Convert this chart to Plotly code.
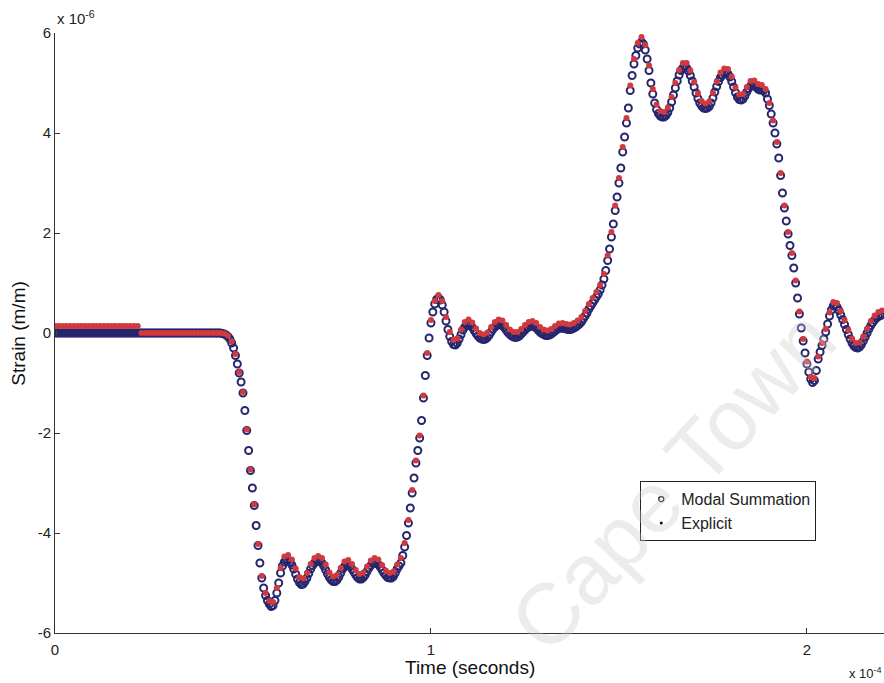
import numpy as np
import plotly.graph_objects as go

# Strain (x 1e-6 m/m) sampled every 0.005 (x 1e-4 s), modal summation solution
modal_strain = [
    0, 0, 0, 0, 0, 0, 0, 0, 0, 0, 0, 0, 0, 0, 0, 0, 0, 0, 0, 0,
    0, 0, 0, 0, 0, 0, 0, 0, 0, 0, 0, 0, 0, 0, 0, 0, 0, 0, 0, 0,
    0, 0, 0, 0, 0, 0, 0, 0, 0, 0, 0, 0, 0, 0, 0, 0, 0, 0, 0, 0,
    0, 0, 0, 0, 0, 0, 0, 0, 0, 0, 0, 0, 0, 0, 0, 0, 0, 0, 0, 0,
    0, 0, 0, 0, 0, 0, 0, 0, 0, -0.01, -0.02, -0.04, -0.07, -0.12, -0.2, -0.3, -0.45, -0.62, -0.8, -0.98,
    -1.2, -1.55, -1.95, -2.35, -2.75, -3.1, -3.45, -3.85, -4.25, -4.6, -4.9, -5.1, -5.25, -5.35, -5.42, -5.47, -5.45, -5.35, -5.2, -5.0,
    -4.8, -4.66, -4.58, -4.55, -4.55, -4.58, -4.64, -4.72, -4.82, -4.92, -4.99, -5.03, -5.02, -4.97, -4.9, -4.81, -4.72, -4.65, -4.6, -4.57,
    -4.56, -4.57, -4.6, -4.66, -4.74, -4.82, -4.89, -4.94, -4.97, -4.97, -4.94, -4.88, -4.8, -4.72, -4.67, -4.64, -4.64, -4.67, -4.72, -4.78,
    -4.84, -4.89, -4.92, -4.92, -4.89, -4.84, -4.77, -4.7, -4.65, -4.61, -4.6, -4.6, -4.63, -4.68, -4.74, -4.8, -4.85, -4.89, -4.9, -4.9,
    -4.87, -4.8, -4.72, -4.66, -4.6, -4.45, -4.28, -4.05, -3.8, -3.5, -3.2, -2.9, -2.6, -2.35, -2.1, -1.75, -1.3, -0.85, -0.45, -0.1,
    0.2, 0.42, 0.58, 0.67, 0.7, 0.66, 0.56, 0.42, 0.24, 0.07, -0.07, -0.17, -0.23, -0.24, -0.2, -0.12, -0.03, 0.06, 0.12, 0.16,
    0.17, 0.15, 0.11, 0.05, -0.01, -0.06, -0.1, -0.12, -0.13, -0.12, -0.09, -0.04, 0.02, 0.08, 0.12, 0.15, 0.17, 0.17, 0.15, 0.11,
    0.06, 0.01, -0.03, -0.06, -0.08, -0.09, -0.08, -0.06, -0.02, 0.02, 0.06, 0.1, 0.12, 0.14, 0.14, 0.13, 0.1, 0.06, 0.02, -0.01,
    -0.03, -0.05, -0.05, -0.04, -0.02, 0.01, 0.04, 0.07, 0.09, 0.1, 0.1, 0.09, 0.08, 0.07, 0.07, 0.08, 0.1, 0.12, 0.15, 0.18,
    0.22, 0.28, 0.34, 0.4, 0.48, 0.54, 0.6, 0.66, 0.72, 0.78, 0.86, 0.96, 1.08, 1.25, 1.45, 1.68, 1.92, 2.18, 2.45, 2.72,
    3.0, 3.3, 3.62, 3.92, 4.2, 4.5, 4.85, 5.15, 5.38, 5.55, 5.7, 5.78, 5.82, 5.78, 5.66, 5.48, 5.25, 5.0, 4.78, 4.6,
    4.47, 4.39, 4.34, 4.32, 4.32, 4.35, 4.41, 4.5, 4.62, 4.76, 4.9, 5.04, 5.16, 5.25, 5.3, 5.32, 5.3, 5.24, 5.15, 5.04,
    4.92, 4.8, 4.69, 4.6, 4.54, 4.5, 4.49, 4.5, 4.53, 4.6, 4.7, 4.82, 4.93, 5.03, 5.11, 5.16, 5.19, 5.2, 5.18, 5.12,
    5.03, 4.92, 4.81, 4.72, 4.67, 4.66, 4.68, 4.74, 4.82, 4.89, 4.94, 4.96, 4.95, 4.92, 4.88, 4.86, 4.86, 4.85, 4.8, 4.68,
    4.55, 4.38, 4.2, 4.0, 3.78, 3.5, 3.15, 2.8, 2.5, 2.24, 1.98, 1.75, 1.55, 1.3, 1.0, 0.7, 0.38, 0.1, -0.16, -0.4,
    -0.62, -0.78, -0.92, -0.99, -0.95, -0.75, -0.52, -0.38, -0.25, -0.12, 0.02, 0.18, 0.34, 0.46, 0.54, 0.56, 0.52, 0.45, 0.36, 0.27,
    0.17, 0.07, -0.03, -0.12, -0.2, -0.26, -0.29, -0.3, -0.28, -0.23, -0.16, -0.08, 0.0, 0.08, 0.15, 0.21, 0.26, 0.3, 0.33, 0.35,
    0.36,
]

# Strain (x 1e-6 m/m) sampled every 0.01 (x 1e-4 s), explicit time integration
explicit_strain = [
    0.14, 0.14, 0.14, 0.14, 0.14, 0.14, 0.14, 0.14, 0.14, 0.14,
    0.14, 0.14, 0.14, 0.14, 0.14, 0.14, 0.14, 0.14, 0.14, 0.14,
    0.14, 0.14, 0.14, 0, 0, 0, 0, 0, 0, 0,
    0, 0, 0, 0, 0, 0, 0, 0, 0, 0,
    0, 0, 0, 0, 0, -0.01, -0.05, -0.17, -0.42, -0.78,
    -1.18, -1.93, -2.73, -3.43, -4.22, -4.86, -5.2, -5.36, -5.38, -5.1,
    -4.7, -4.47, -4.44, -4.53, -4.71, -4.88, -4.91, -4.8, -4.62, -4.5,
    -4.46, -4.5, -4.63, -4.79, -4.87, -4.84, -4.7, -4.57, -4.54, -4.62,
    -4.74, -4.82, -4.79, -4.67, -4.55, -4.5, -4.53, -4.64, -4.75, -4.8,
    -4.77, -4.63, -4.5, -4.2, -3.74, -3.14, -2.55, -2.05, -1.25, -0.4,
    0.26, 0.64, 0.76, 0.64, 0.32, 0.02, -0.14, -0.11, 0.07, 0.22,
    0.27, 0.21, 0.09, 0.0, -0.03, 0.01, 0.12, 0.22, 0.27, 0.25,
    0.16, 0.07, 0.02, 0.02, 0.08, 0.16, 0.22, 0.24, 0.2, 0.12,
    0.07, 0.05, 0.08, 0.14, 0.19, 0.2, 0.18, 0.17, 0.2, 0.25,
    0.32, 0.44, 0.58, 0.7, 0.82, 0.96, 1.18, 1.55, 2.02, 2.55,
    3.1, 3.72, 4.3, 4.95, 5.48, 5.8, 5.92, 5.76, 5.35, 4.88,
    4.57, 4.44, 4.42, 4.51, 4.72, 5.0, 5.26, 5.4, 5.4, 5.25,
    5.02, 4.79, 4.64, 4.59, 4.63, 4.8, 5.03, 5.21, 5.29, 5.28,
    5.13, 4.91, 4.77, 4.78, 4.92, 5.04, 5.05, 4.98, 4.96, 4.88,
    4.6, 4.25, 3.82, 3.2, 2.55, 2.02, 1.6, 1.05, 0.43, -0.12,
    -0.57, -0.88, -0.9, -0.47, -0.2, 0.08, 0.41, 0.62, 0.6, 0.44,
    0.26, 0.06, -0.11, -0.2, -0.19, -0.07, 0.09, 0.24, 0.35, 0.42,
    0.45,
]

modal_time = np.round(np.arange(len(modal_strain)) * 0.005, 4)
explicit_time = np.round(np.arange(len(explicit_strain)) * 0.01, 4)

y_ticks = [-6, -4, -2, 0, 2, 4, 6]
x_ticks = [0, 1, 2]

FONT = "Liberation Sans, Arial, sans-serif"

fig = go.Figure()
fig.add_trace(go.Scatter(
    x=modal_time, y=modal_strain, mode="markers", name="Modal Summation",
    marker=dict(symbol="circle-open", size=7, color="#26266e", line=dict(width=2)),
    showlegend=False,
))
fig.add_trace(go.Scatter(
    x=explicit_time, y=explicit_strain, mode="markers", name="Explicit",
    marker=dict(symbol="circle", size=6, color="#d03a3e"),
    showlegend=False,
))
# legend keys drawn in black
fig.add_trace(go.Scatter(
    x=[None], y=[None], mode="markers", name="Modal Summation",
    marker=dict(symbol="circle-open", size=5, color="#111111", line=dict(width=1.3)),
))
fig.add_trace(go.Scatter(
    x=[None], y=[None], mode="markers", name="Explicit",
    marker=dict(symbol="circle", size=3, color="#111111"),
))

fig.update_layout(
    width=884, height=683,
    margin=dict(l=55, r=0, t=33, b=50),
    paper_bgcolor="white", plot_bgcolor="white",
    font=dict(family=FONT, size=15, color="#222222"),
    showlegend=True,
    legend=dict(
        x=0.706, y=0.253, xanchor="left", yanchor="top",
        bgcolor="white", bordercolor="#222222", borderwidth=1,
        font=dict(family=FONT, size=16, color="#222222"),
        itemwidth=30, tracegroupgap=0,
    ),
    xaxis=dict(
        range=[0, 2.205], tickvals=x_ticks, ticktext=[str(v) for v in x_ticks],
        showgrid=False, zeroline=False, showline=True, linecolor="#333333", linewidth=1,
        ticks="inside", ticklen=5, tickcolor="#333333", ticklabelstandoff=3,
    ),
    yaxis=dict(
        range=[-6, 6], tickvals=y_ticks, ticktext=[str(v) for v in y_ticks],
        showgrid=False, zeroline=False, showline=True, linecolor="#333333", linewidth=1,
        ticks="inside", ticklen=5, tickcolor="#333333",
    ),
    annotations=[
        dict(text="Strain (m/m)", xref="paper", yref="paper", x=-0.045, y=0.5,
             xanchor="center", yanchor="middle",
             textangle=-90, showarrow=False, font=dict(size=19, color="#111111")),
        dict(text="Time (seconds)", xref="paper", yref="paper", x=0.5, y=-0.036,
             xanchor="center", yanchor="top", showarrow=False,
             font=dict(size=19, color="#111111")),
        dict(text="x 10<sup>-6</sup>", xref="paper", yref="paper", x=0.0, y=1.0,
             xanchor="left", yanchor="bottom", yshift=4, showarrow=False,
             font=dict(size=15, color="#222222")),
        dict(text="x 10<sup>-4</sup>", xref="paper", yref="paper", x=1.0, y=-0.083,
             xanchor="right", yanchor="bottom", showarrow=False,
             font=dict(size=13, color="#222222")),
        dict(text="Cape Town", xref="paper", yref="paper", x=0.745, y=0.255,
             xanchor="center", yanchor="middle",
             textangle=-47, showarrow=False,
             font=dict(size=86, color="rgba(200,200,200,0.35)")),
    ],
)

fig.write_html("out.html")
